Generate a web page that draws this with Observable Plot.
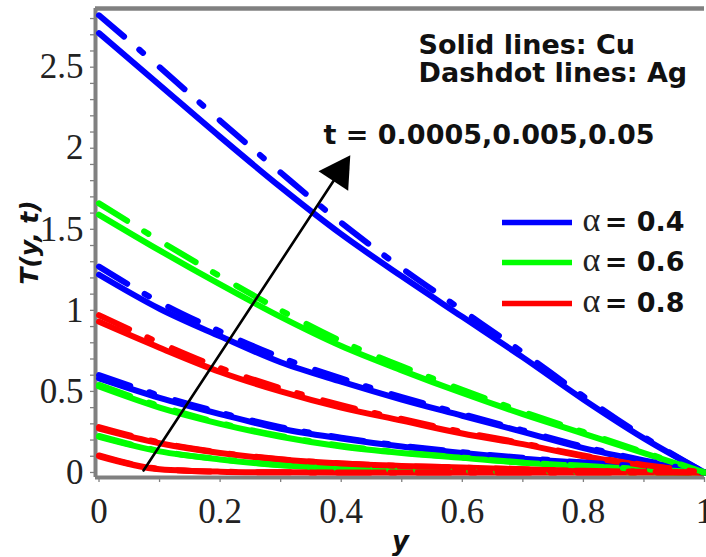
<!DOCTYPE html>
<html><head><meta charset="utf-8">
<script src="https://cdn.jsdelivr.net/npm/d3@7"></script>
<script src="https://cdn.jsdelivr.net/npm/@observablehq/plot@0.6"></script>
<style>body{margin:0;background:#fff;} svg{overflow:visible;}</style>
</head><body><div id="chart"></div>
<script>
// ---------- data ----------
const yGrid = [0, 0.1, 0.2, 0.3, 0.4, 0.5, 0.6, 0.7, 0.8, 0.9, 1.0];
const alphaValues = ["0.4", "0.6", "0.8"];
const alphaColors = ["#0000ff", "#00ff00", "#ff0000"];
const tValues = ["0.0005", "0.005", "0.05"];

// Cu (solid)
const cu_a04_t1 = [0.58, 0.46, 0.36, 0.27, 0.21, 0.16, 0.12, 0.085, 0.06, 0.035, 0];
const cu_a04_t2 = [1.22, 1.01, 0.84, 0.68, 0.56, 0.45, 0.35, 0.25, 0.15, 0.07, 0];
const cu_a04_t3 = [2.71, 2.39, 2.07, 1.76, 1.47, 1.21, 0.96, 0.71, 0.45, 0.21, 0];
const cu_a06_t1 = [0.22, 0.13, 0.08, 0.045, 0.025, 0.015, 0.01, 0.005, 0.003, 0.001, 0];
const cu_a06_t2 = [0.53, 0.40, 0.30, 0.22, 0.16, 0.12, 0.09, 0.06, 0.04, 0.02, 0];
const cu_a06_t3 = [1.59, 1.37, 1.16, 0.96, 0.78, 0.63, 0.49, 0.36, 0.24, 0.12, 0];
const cu_a08_t1 = [0.10, 0.02, 0.005, 0.001, 0, 0, 0, 0, 0, 0, 0];
const cu_a08_t2 = [0.27, 0.18, 0.12, 0.08, 0.055, 0.04, 0.03, 0.02, 0.01, 0.005, 0];
const cu_a08_t3 = [0.93, 0.77, 0.62, 0.50, 0.40, 0.32, 0.24, 0.175, 0.10, 0.045, 0];
// Ag (dashdot)
const ag_a04_t1 = [0.60, 0.475, 0.37, 0.28, 0.215, 0.165, 0.125, 0.09, 0.062, 0.036, 0];
const ag_a04_t2 = [1.27, 1.05, 0.87, 0.71, 0.58, 0.465, 0.36, 0.26, 0.16, 0.075, 0];
const ag_a04_t3 = [2.82, 2.50, 2.17, 1.85, 1.54, 1.26, 1.00, 0.74, 0.47, 0.22, 0];
const ag_a06_t1 = [0.225, 0.133, 0.082, 0.046, 0.026, 0.015, 0.01, 0.005, 0.003, 0.001, 0];
const ag_a06_t2 = [0.54, 0.41, 0.305, 0.225, 0.165, 0.123, 0.092, 0.062, 0.041, 0.02, 0];
const ag_a06_t3 = [1.66, 1.43, 1.21, 1.00, 0.81, 0.655, 0.51, 0.375, 0.25, 0.125, 0];
const ag_a08_t1 = [0.105, 0.022, 0.005, 0.001, 0, 0, 0, 0, 0, 0, 0];
const ag_a08_t2 = [0.28, 0.185, 0.123, 0.082, 0.056, 0.04, 0.03, 0.02, 0.01, 0.005, 0];
const ag_a08_t3 = [0.97, 0.80, 0.645, 0.52, 0.415, 0.33, 0.25, 0.18, 0.105, 0.047, 0];

const xTicks = [0, 0.1, 0.2, 0.3, 0.4, 0.5, 0.6, 0.7, 0.8, 0.9, 1.0];
const xTickLabels = ["0", "", "0.2", "", "0.4", "", "0.6", "", "0.8", "", "1"];
const yTicks = d3.range(0, 29).map(i => i / 10);
const yTickLabels = ["0", "0.5", "1", "1.5", "2", "2.5"];

const noteLines = ["Solid lines: Cu", "Dashdot lines: Ag"];
const arrowLabel = "t = 0.0005,0.005,0.05";
const arrowEnds = [{x1: 0.0735, y1: 0.012, x2: 0.415, y2: 1.956}];

const seriesList = [
  {metal: "Cu", alpha: "0.4", t: "0.0005", values: cu_a04_t1},
  {metal: "Cu", alpha: "0.4", t: "0.005", values: cu_a04_t2},
  {metal: "Cu", alpha: "0.4", t: "0.05", values: cu_a04_t3},
  {metal: "Cu", alpha: "0.6", t: "0.0005", values: cu_a06_t1},
  {metal: "Cu", alpha: "0.6", t: "0.005", values: cu_a06_t2},
  {metal: "Cu", alpha: "0.6", t: "0.05", values: cu_a06_t3},
  {metal: "Cu", alpha: "0.8", t: "0.0005", values: cu_a08_t1},
  {metal: "Cu", alpha: "0.8", t: "0.005", values: cu_a08_t2},
  {metal: "Cu", alpha: "0.8", t: "0.05", values: cu_a08_t3},
  {metal: "Ag", alpha: "0.4", t: "0.0005", values: ag_a04_t1},
  {metal: "Ag", alpha: "0.4", t: "0.005", values: ag_a04_t2},
  {metal: "Ag", alpha: "0.4", t: "0.05", values: ag_a04_t3},
  {metal: "Ag", alpha: "0.6", t: "0.0005", values: ag_a06_t1},
  {metal: "Ag", alpha: "0.6", t: "0.005", values: ag_a06_t2},
  {metal: "Ag", alpha: "0.6", t: "0.05", values: ag_a06_t3},
  {metal: "Ag", alpha: "0.8", t: "0.0005", values: ag_a08_t1},
  {metal: "Ag", alpha: "0.8", t: "0.005", values: ag_a08_t2},
  {metal: "Ag", alpha: "0.8", t: "0.05", values: ag_a08_t3}
];
const rows = seriesList.flatMap(s => s.values.map((T, i) => ({
  y: yGrid[i], T, alpha: s.alpha, t: s.t, metal: s.metal, key: s.metal + s.alpha + s.t
})));

// ---------- layout ----------
const W = 706, H = 557;
const mL = 95, mR = 2, mT = 8, mB = 80;
const xDomain = [-0.0058, 1.0];
const yDomain = [-0.031, 2.862];
const px = d3.scaleLinear(xDomain, [mL, W - mR]);
const py = d3.scaleLinear(yDomain, [H - mB, mT]);
const X = v => px.invert(v), Y = v => py.invert(v);

const frameColor = "#808080";
const tickFont = "'Liberation Serif', 'Times New Roman', serif";
const boldFont = "'DejaVu Sans', sans-serif";

const legendRows = alphaValues.map((a, i) => ({alpha: a, row: i}));
const rowY = [222, 262, 303];

const chart = Plot.plot({
  width: W, height: H,
  marginLeft: mL, marginRight: mR, marginTop: mT, marginBottom: mB,
  style: {background: "#fff", overflow: "visible"},
  x: {domain: xDomain, label: null},
  y: {domain: yDomain, label: null},
  color: {domain: alphaValues, range: alphaColors},
  marks: [
    // axes
    Plot.axisY({ticks: yTicks, tickSize: 5, tickPadding: 7, stroke: frameColor, strokeWidth: 1.3,
      tickFormat: d => (Math.abs(d * 2 - Math.round(d * 2)) < 1e-6 ? yTickLabels[Math.round(d * 2)] : ""),
      fontSize: 35, fontFamily: tickFont, fill: "#222"}),
    Plot.axisX({ticks: xTicks, tickSize: 5, tickPadding: 16, stroke: frameColor, strokeWidth: 1.3,
      tickFormat: d => xTickLabels[Math.round(d * 10)],
      fontSize: 35, fontFamily: tickFont, fill: "#222"}),
    // frame
    Plot.ruleY([yDomain[1]], {stroke: frameColor, strokeWidth: 4.5}),
    Plot.ruleY([yDomain[0]], {stroke: frameColor, strokeWidth: 4}),
    Plot.ruleX([xDomain[0]], {stroke: frameColor, strokeWidth: 4}),
    // curves
    Plot.line(rows.filter(d => d.metal === "Cu"), {x: "y", y: "T", z: "key", stroke: "alpha",
      strokeWidth: 6, curve: "monotone-x"}),
    Plot.line(rows.filter(d => d.metal === "Ag"), {x: "y", y: "T", z: "key", stroke: "alpha",
      strokeWidth: 6, curve: "monotone-x", strokeDasharray: "33,20,5,22"}),
    // arrow
    Plot.arrow(arrowEnds, {x1: "x1", y1: "y1", x2: "x2", y2: "y2", headLength: 0, insetEnd: 16,
      stroke: "#000", strokeWidth: 2.6}),
    Plot.dot(arrowEnds, {x: "x2", y: "y2", symbol: "triangle", r: 13.2, rotate: 33.4,
      dx: -11.3, dy: 17.1, fill: "#000", stroke: "none"}),
    Plot.text([arrowLabel], {x: X(323), y: Y(134.7), text: d => d, textAnchor: "start",
      fontFamily: boldFont, fontWeight: "bold", fontSize: 27, fill: "#111"}),
    // notes
    Plot.text(noteLines, {x: X(418), y: (d, i) => Y([44.5, 73][i]), text: d => d, textAnchor: "start",
      fontFamily: boldFont, fontWeight: "bold", fontSize: 27, fill: "#111"}),
    // legend
    Plot.ruleY(legendRows, {y: d => Y(rowY[d.row]), x1: X(502), x2: X(572), stroke: "alpha", strokeWidth: 5.5}),
    Plot.text(legendRows, {x: X(582), y: d => Y(rowY[d.row] + 8 - 0.32 * 34), text: () => "\u03b1",
      textAnchor: "start", fontFamily: tickFont, fontSize: 34, fill: "#222"}),
    Plot.text(legendRows, {x: X(684), y: d => Y(rowY[d.row] + 8 - 0.32 * 27), text: d => "= " + d.alpha,
      textAnchor: "end", fontFamily: boldFont, fontWeight: "bold", fontSize: 27, fill: "#111"}),
    // axis titles
    Plot.text(["y"], {x: X(400), y: Y(541), text: d => d, fontFamily: boldFont, fontWeight: "bold",
      fontStyle: "italic", fontSize: 26, fill: "#111"}),
    Plot.text(["T(y, t)"], {x: X(29), y: Y(242), text: d => d, rotate: -90, fontFamily: boldFont,
      fontWeight: "bold", fontStyle: "italic", fontSize: 25, fill: "#111"})
  ]
});
document.getElementById("chart").appendChild(chart);
</script>
</body></html>
